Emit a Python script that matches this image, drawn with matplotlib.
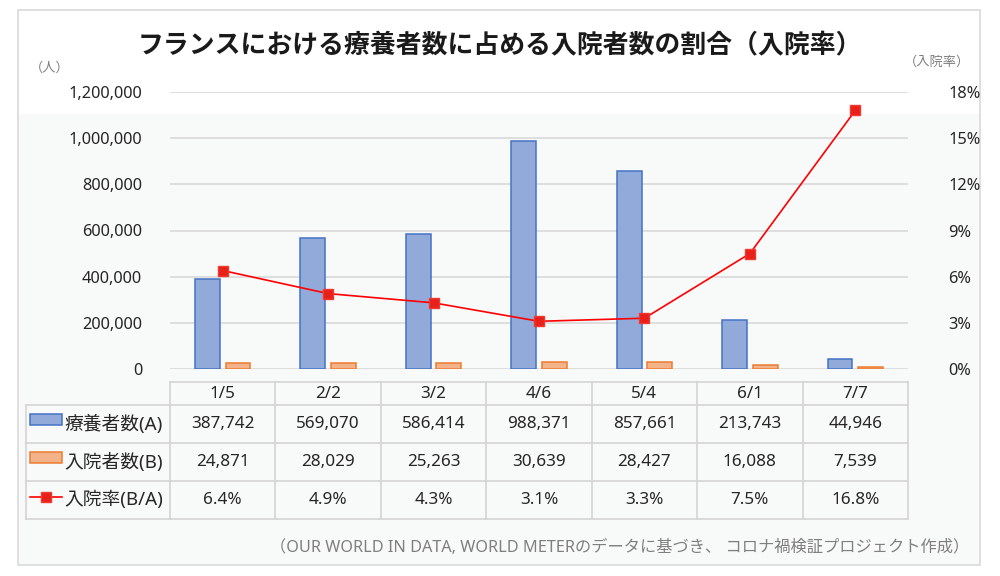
import matplotlib
matplotlib.use('Agg')
import numpy as np
import matplotlib.pyplot as plt
from matplotlib.transforms import blended_transform_factory
from matplotlib.patches import Rectangle
from matplotlib.lines import Line2D
from matplotlib.ticker import FuncFormatter

# ---------------- data ----------------
categories = ['1/5', '2/2', '3/2', '4/6', '5/4', '6/1', '7/7']
recovering = [387742, 569070, 586414, 988371, 857661, 213743, 44946]      # 療養者数(A)
hospitalized = [24871, 28029, 25263, 30639, 28427, 16088, 7539]            # 入院者数(B)
rate_pct = [6.4, 4.9, 4.3, 3.1, 3.3, 7.5, 16.8]                            # 入院率(B/A) %
left_ticks = [0, 200000, 400000, 600000, 800000, 1000000, 1200000]
right_ticks = [0, 3, 6, 9, 12, 15, 18]
series_labels = ['療養者数(A)', '入院者数(B)', '入院率(B/A)']
title_text = 'フランスにおける療養者数に占める入院者数の割合（入院率）'
left_unit = '（人）'
right_unit = '（入院率）'
source_text = '（OUR WORLD IN DATA, WORLD METERのデータに基づき、 コロナ禍検証プロジェクト作成）'

# ---------------- style ----------------
plt.rcParams['font.family'] = ['Noto Sans', 'Noto Sans CJK JP', 'DejaVu Sans']
BLUE_FILL, BLUE_EDGE = '#92aada', '#4472c4'
ORANGE_FILL, ORANGE_EDGE = '#f2b28a', '#ed7d31'
RED = '#ff0000'
GRID = '#d9d9d9'
TXT = '#262626'
GRAY_TXT = '#7f7f7f'

W, H = 1000, 576
fig = plt.figure(figsize=(W / 100, H / 100), dpi=100)


def fx(px):
    return px / W


def fy(py):
    return 1 - py / H


# outer frame and faint plot background
fig.add_artist(Rectangle((fx(18), fy(565)), fx(980) - fx(18), fy(10) - fy(565),
                         transform=fig.transFigure, facecolor='white',
                         edgecolor='#d9d9d9', lw=1.2, zorder=-3))
fig.add_artist(Rectangle((fx(19), fy(564)), fx(979) - fx(19), fy(114) - fy(564),
                         transform=fig.transFigure, facecolor='#f8f9f9',
                         edgecolor='none', zorder=-2))

# ---------------- main axes ----------------
ax = fig.add_axes([fx(170), fy(369), fx(908) - fx(170), fy(92) - fy(369)])
ax.set_facecolor('none')
x = np.arange(len(categories))
ax.bar(x - 0.145, recovering, width=0.235, color=BLUE_FILL, edgecolor=BLUE_EDGE,
       linewidth=1.1, zorder=3)
ax.bar(x + 0.145, hospitalized, width=0.235, color=ORANGE_FILL, edgecolor=ORANGE_EDGE,
       linewidth=1.1, zorder=3)
ax.set_xlim(-0.5, len(categories) - 0.5)
ax.set_ylim(left_ticks[0], left_ticks[-1])
ax.set_yticks(left_ticks)
ax.yaxis.set_major_formatter(FuncFormatter(lambda v, p: f'{int(v):,}'))
ax.set_xticks([])
ax.grid(axis='y', color=GRID, lw=1.2, zorder=0)
for s in ax.spines.values():
    s.set_visible(False)
ax.tick_params(axis='y', length=0, pad=20, labelsize=11.8, labelcolor=TXT)

ax2 = ax.twinx()
ax2.plot(x, [r / 100 for r in rate_pct], color=RED, lw=1.2, marker='s',
         markersize=6.5, markerfacecolor='#e8201a', markeredgecolor='#f03a30', zorder=5)
ax2.set_ylim(right_ticks[0] / 100, right_ticks[-1] / 100)
ax2.set_yticks([t / 100 for t in right_ticks])
ax2.yaxis.set_major_formatter(FuncFormatter(lambda v, p: f'{v * 100:.0f}%'))
for s in ax2.spines.values():
    s.set_visible(False)
ax2.tick_params(axis='y', length=0, pad=29, labelsize=11.8, labelcolor=TXT)

# ---------------- texts ----------------
fig.text(0.5, fy(45), title_text, ha='center', va='center', fontsize=18.6,
         fontweight='bold', color='#1a1a1a', family=['Noto Sans CJK JP'])
fig.text(fx(50), fy(68), left_unit, ha='center', va='center', fontsize=9.5,
         color=GRAY_TXT, family=['Noto Sans CJK JP'])
fig.text(fx(937), fy(62), right_unit, ha='center', va='center', fontsize=9.5,
         color=GRAY_TXT, family=['Noto Sans CJK JP'])
fig.text(fx(969), fy(548), source_text, ha='right', va='center', fontsize=11.7,
         color=GRAY_TXT)

# ---------------- data table ----------------
tr = blended_transform_factory(ax.transData, fig.transFigure)
n = len(categories)
px_per_cat = (908 - 170) / n
x_label_left = -0.5 - (170 - 26) / px_per_cat
TL = '#d4d4d4'
row_edges = [382, 405, 443, 481, 519]
row_centers = [(row_edges[i] + row_edges[i + 1]) / 2 for i in range(4)]

# horizontal lines
fig.add_artist(Line2D([-0.5, n - 0.5], [fy(382)] * 2, transform=tr, color=TL, lw=1.2))
for py in row_edges[1:]:
    fig.add_artist(Line2D([x_label_left, n - 0.5], [fy(py)] * 2, transform=tr, color=TL, lw=1.2))
# vertical lines
for b in np.arange(-0.5, n, 1.0):
    fig.add_artist(Line2D([b, b], [fy(382), fy(519)], transform=tr, color=TL, lw=1.2))
fig.add_artist(Line2D([x_label_left] * 2, [fy(405), fy(519)], transform=tr, color=TL, lw=1.2))

for i, c in enumerate(categories):
    fig.text(i, fy(row_centers[0]), c, transform=tr, ha='center', va='center',
             fontsize=12.3, color=TXT)
    fig.text(i, fy(row_centers[1]), f'{recovering[i]:,}', transform=tr, ha='center',
             va='center', fontsize=12.3, color=TXT)
    fig.text(i, fy(row_centers[2]), f'{hospitalized[i]:,}', transform=tr, ha='center',
             va='center', fontsize=12.3, color=TXT)
    fig.text(i, fy(row_centers[3]), f'{rate_pct[i]:.1f}%', transform=tr, ha='center',
             va='center', fontsize=12.3, color=TXT)

# legend keys + row labels
fig.add_artist(Rectangle((fx(30), fy(425)), fx(62) - fx(30), fy(414) - fy(425),
                         transform=fig.transFigure, facecolor=BLUE_FILL,
                         edgecolor=BLUE_EDGE, lw=1.1))
fig.add_artist(Rectangle((fx(30), fy(463)), fx(62) - fx(30), fy(452) - fy(463),
                         transform=fig.transFigure, facecolor=ORANGE_FILL,
                         edgecolor=ORANGE_EDGE, lw=1.1))
fig.add_artist(Line2D([fx(30), fx(62)], [fy(497)] * 2, transform=fig.transFigure,
                      color=RED, lw=1.2))
fig.add_artist(Line2D([fx(46)], [fy(497)], transform=fig.transFigure, marker='s',
                      markersize=6.5, color='#e8201a', markeredgecolor='#f03a30', lw=0))
for k, lab in enumerate(series_labels):
    fig.text(fx(64), fy(row_centers[k + 1]), lab, ha='left', va='center',
             fontsize=13.5, color=TXT)

fig.savefig('out.png', dpi=100)
